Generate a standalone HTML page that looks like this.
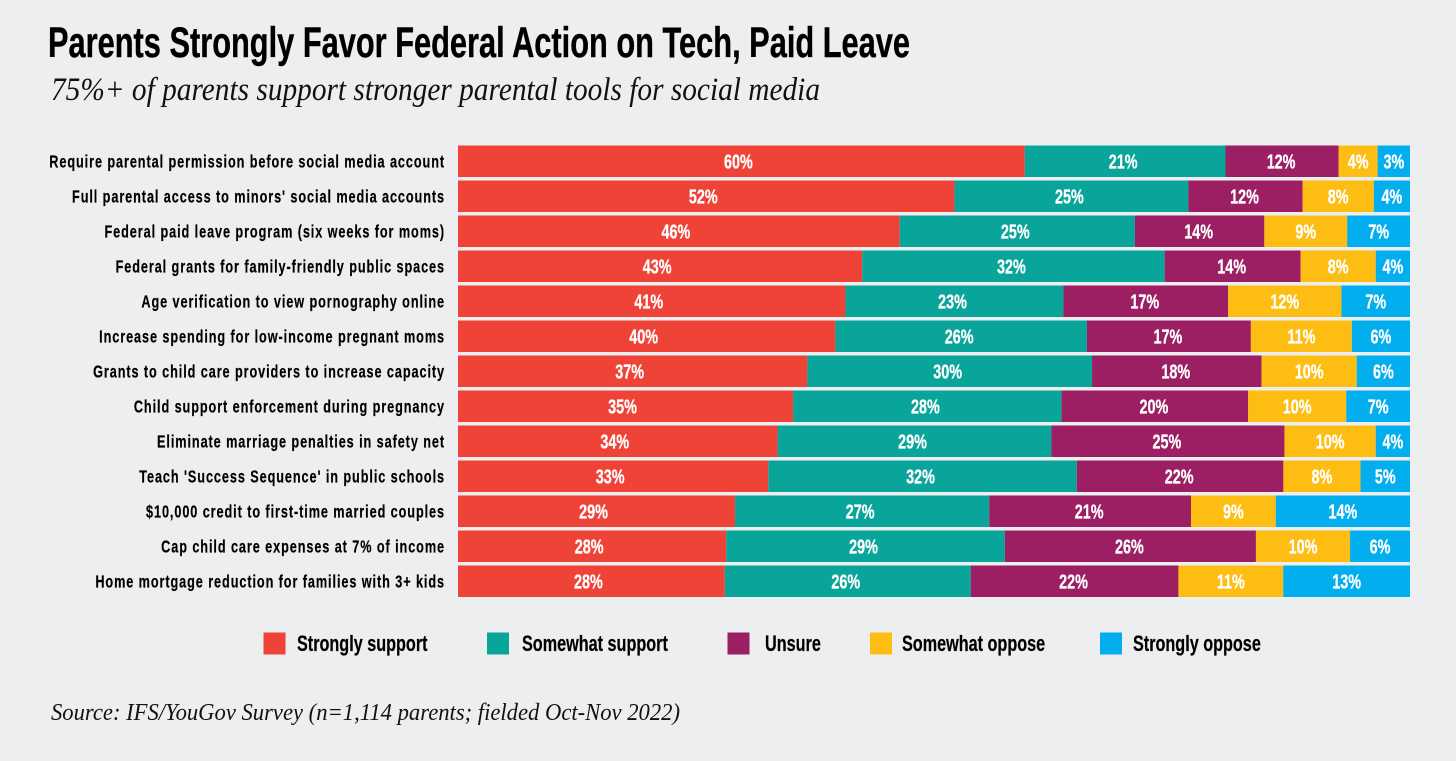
<!DOCTYPE html>
<html lang="en">
<head>
<meta charset="utf-8">
<title>Parents Strongly Favor Federal Action on Tech, Paid Leave</title>
<style>
html,body{margin:0;padding:0;background:#edeef0;width:1456px;height:761px;overflow:hidden}
svg{display:block}
.sans{font-family:"Liberation Sans",sans-serif;font-weight:700}
.serif{font-family:"Liberation Serif",serif;font-style:italic}
</style>
</head>
<body>
<svg id="chart" xmlns="http://www.w3.org/2000/svg" width="1456" height="761" viewBox="0 0 1456 761">
<rect x="0" y="0" width="1456" height="761" fill="#edeef0"/>
<text class="sans" x="48" y="57" font-size="43" fill="#000" stroke="#000" stroke-width="0.4" textLength="862" lengthAdjust="spacingAndGlyphs">Parents Strongly Favor Federal Action on Tech, Paid Leave</text>
<text class="serif" x="51" y="100" font-size="33" fill="#111" textLength="769" lengthAdjust="spacingAndGlyphs">75%+ of parents support stronger parental tools for social media</text>
<text class="serif" x="51" y="720" font-size="24" fill="#111" textLength="629" lengthAdjust="spacingAndGlyphs">Source: IFS/YouGov Survey (n=1,114 parents; fielded Oct-Nov 2022)</text>
<g id="bars"></g>
<g id="legend"></g>
</svg>
<script>
const categories = [
  "Require parental permission before social media account",
  "Full parental access to minors' social media accounts",
  "Federal paid leave program (six weeks for moms)",
  "Federal grants for family-friendly public spaces",
  "Age verification to view pornography online",
  "Increase spending for low-income pregnant moms",
  "Grants to child care providers to increase capacity",
  "Child support enforcement during pregnancy",
  "Eliminate marriage penalties in safety net",
  "Teach 'Success Sequence' in public schools",
  "$10,000 credit to first-time married couples",
  "Cap child care expenses at 7% of income",
  "Home mortgage reduction for families with 3+ kids"
];
const seriesNames = ["Strongly support", "Somewhat support", "Unsure", "Somewhat oppose", "Strongly oppose"];
const stronglySupport = [59.6, 52.2, 46.4, 42.5, 40.7, 39.6, 36.7, 35.2, 33.6, 32.6, 29.1, 28.2, 28.0];
const somewhatSupport = [21.1, 24.6, 24.7, 31.8, 22.9, 26.4, 29.9, 28.2, 28.8, 32.4, 26.7, 29.3, 25.8];
const unsure = [11.9, 12.0, 13.6, 14.3, 17.3, 17.2, 17.8, 19.6, 24.5, 21.7, 21.2, 26.4, 21.8];
const somewhatOppose = [4.1, 7.5, 8.7, 7.9, 11.9, 10.6, 10.0, 10.3, 9.6, 8.1, 8.9, 9.9, 11.0];
const stronglyOppose = [3.4, 3.8, 6.6, 3.6, 7.2, 6.1, 5.6, 6.7, 3.6, 5.2, 14.1, 6.3, 13.3];

const seriesValues = [stronglySupport, somewhatSupport, unsure, somewhatOppose, stronglyOppose];
const seriesColors = ["#f04338", "#09a59a", "#9c1f63", "#fdbd13", "#03aeef"];

const NS = "http://www.w3.org/2000/svg";
const plotLeft = 458, plotRight = 1410, plotTop = 145.5, rowStep = 35, barHeight = 31.5;
const labelNudge = [-3, -2, -1, 0, 0];

function xScale(share) { return plotLeft + (plotRight - plotLeft) * share; }
function yScale(index) { return plotTop + rowStep * index; }

function make(tag, attrs, parent) {
  const el = document.createElementNS(NS, tag);
  for (const k in attrs) el.setAttribute(k, attrs[k]);
  parent.appendChild(el);
  return el;
}

const barsGroup = document.getElementById("bars");
categories.forEach(function (cat, i) {
  const y = yScale(i);
  const label = make("text", {
    "class": "sans", "text-anchor": "end", "font-size": 17.5, fill: "#000",
    "letter-spacing": 1.27, stroke: "#000", "stroke-width": 0.2,
    transform: "translate(445," + (y + 22) + ") scale(0.725,1)"
  }, barsGroup);
  
  
  label.textContent = cat;

  const total = seriesValues.reduce(function (s, arr) { return s + arr[i]; }, 0);
  let cum = 0;
  seriesValues.forEach(function (arr, s) {
    const x0 = xScale(cum / total);
    cum += arr[i];
    const x1 = xScale(cum / total);
    const bar = make("rect", { x: x0, y: y, width: x1 - x0, height: barHeight, fill: seriesColors[s] }, barsGroup);
    
    
    const val = make("text", {
      "class": "sans", "text-anchor": "middle", "font-size": 20, fill: "#fff",
      stroke: "#fff", "stroke-width": 0.3,
      transform: "translate(" + ((x0 + x1) / 2 + labelNudge[s]) + "," + (y + 23) + ") scale(0.72,1)"
    }, barsGroup);
    
    
    val.textContent = Math.round(arr[i]) + "%";
  });
});

const legendGroup = document.getElementById("legend");
const legendSwatchX = [263.5, 487, 727.5, 870, 1100];
const legendTextX = [297, 522, 765, 902, 1133];
seriesNames.forEach(function (name, s) {
  const sw = make("rect", { x: legendSwatchX[s], y: 632.5, width: 22, height: 22, fill: seriesColors[s] }, legendGroup);
  
  
  const t = make("text", {
    "class": "sans", "font-size": 22, fill: "#000", stroke: "#000", "stroke-width": 0.2,
    transform: "translate(" + legendTextX[s] + ",651) scale(0.737,1)"
  }, legendGroup);
  
  
  t.textContent = name;
});
</script>
</body>
</html>
